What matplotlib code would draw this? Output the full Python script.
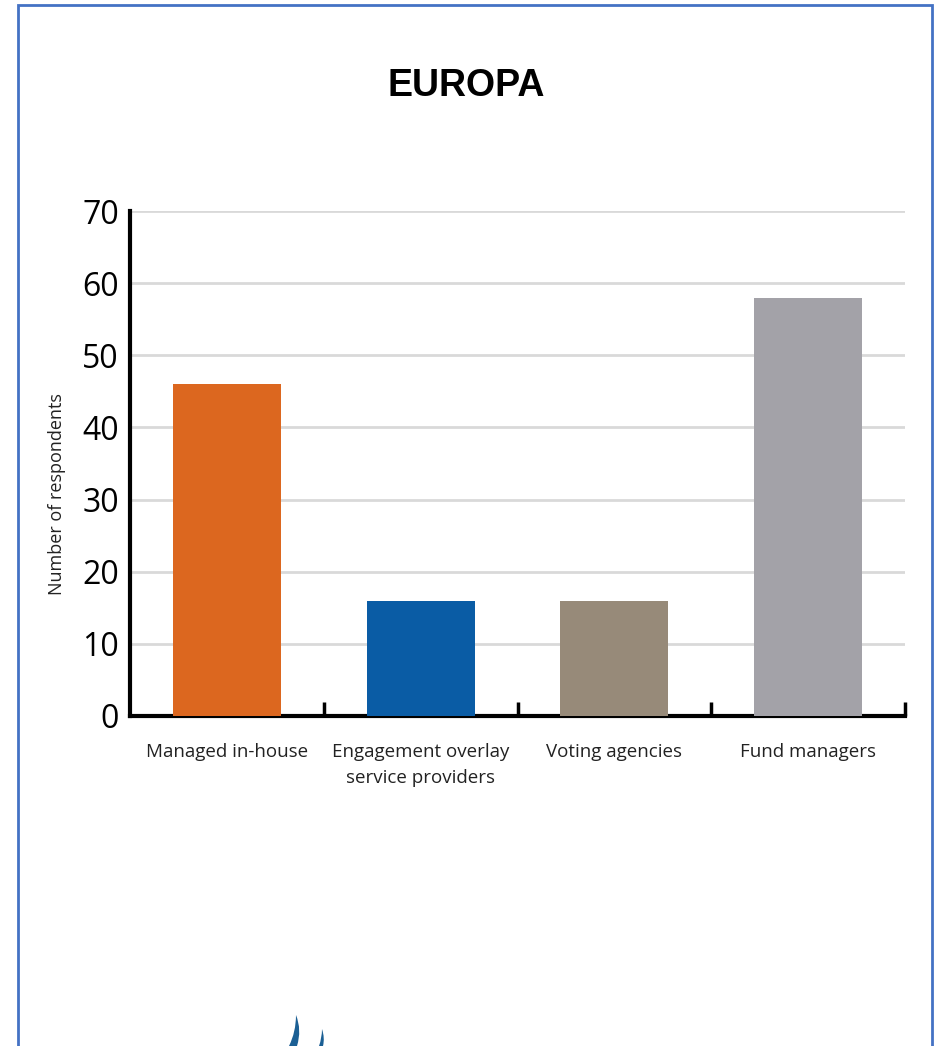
import matplotlib
matplotlib.use("Agg")
import matplotlib.pyplot as plt
from matplotlib.patches import Rectangle, PathPatch
from matplotlib.path import Path

categories = ["Managed in-house", "Engagement overlay\nservice providers",
              "Voting agencies", "Fund managers"]
respondents = [46, 16, 16, 58]
bar_colors = ["#DC671F", "#0A5CA5", "#978A79", "#A3A2A8"]
y_ticks = [0, 10, 20, 30, 40, 50, 60, 70]

W, H = 940, 1046
fig = plt.figure(figsize=(W / 100, H / 100), dpi=100)
fig.patch.set_facecolor("white")

# blue frame round the panel
fig.add_artist(Rectangle((18 / W, -0.05), (932 - 18) / W, 1.05 - 5 / H,
                         transform=fig.transFigure, fill=False,
                         edgecolor="#4472C4", linewidth=2))

# cut-off logo swooshes at the foot of the panel
def swoosh(pts):
    verts = [(px / W, 1 - py / H) for px, py in pts]
    codes = [Path.MOVETO, Path.CURVE3, Path.CURVE3,
             Path.LINETO, Path.CURVE3, Path.CURVE3, Path.CLOSEPOLY]
    verts.append(verts[0])
    fig.add_artist(PathPatch(Path(verts, codes), transform=fig.transFigure,
                             facecolor="#1B5F94", edgecolor="none"))

swoosh([(296, 1015), (302, 1030), (297, 1046), (289, 1046),
        (296, 1032), (296, 1015)])
swoosh([(322, 1029), (325, 1038), (323, 1046), (319, 1046),
        (322, 1038), (322, 1029)])

fig.text(466 / W, 1 - 86 / H, "EUROPA", ha="center", va="center",
         fontsize=27, fontweight="bold", family="Liberation Sans")

ax = fig.add_axes([130 / W, 1 - 716 / H, 775 / W, 505 / H])
x = range(len(categories))
ax.bar(x, respondents, width=0.557, color=bar_colors, zorder=3)

ax.set_xlim(-0.5, 3.5)
ax.set_ylim(0, 70)
ax.set_yticks(y_ticks)
ax.set_yticklabels([str(v) for v in y_ticks], fontsize=23, family="Open Sans",
                   color="black")
ax.tick_params(axis="y", length=0, pad=8)
ax.yaxis.grid(True, color="#D9D9D9", linewidth=2, zorder=0)

# category labels centred under bars, ticks at the boundaries
ax.set_xticks([0.5, 1.5, 2.5, 3.5])
ax.set_xticklabels([])
ax.tick_params(axis="x", direction="in", length=10, width=2.5, color="black")
for i, lab in enumerate(categories):
    ax.text(i, -3.75, lab, ha="center", va="top", fontsize=13.5,
            family="Open Sans", color="#222222", linespacing=1.6)

for side in ("top", "right"):
    ax.spines[side].set_visible(False)
ax.spines["left"].set_linewidth(3)
ax.spines["bottom"].set_linewidth(3)

ax.set_ylabel("Number of respondents", fontsize=13, family="Open Sans",
              color="#222222")
ax.yaxis.set_label_coords(-0.082, 0.44)

fig.savefig("out.png", dpi=100)
